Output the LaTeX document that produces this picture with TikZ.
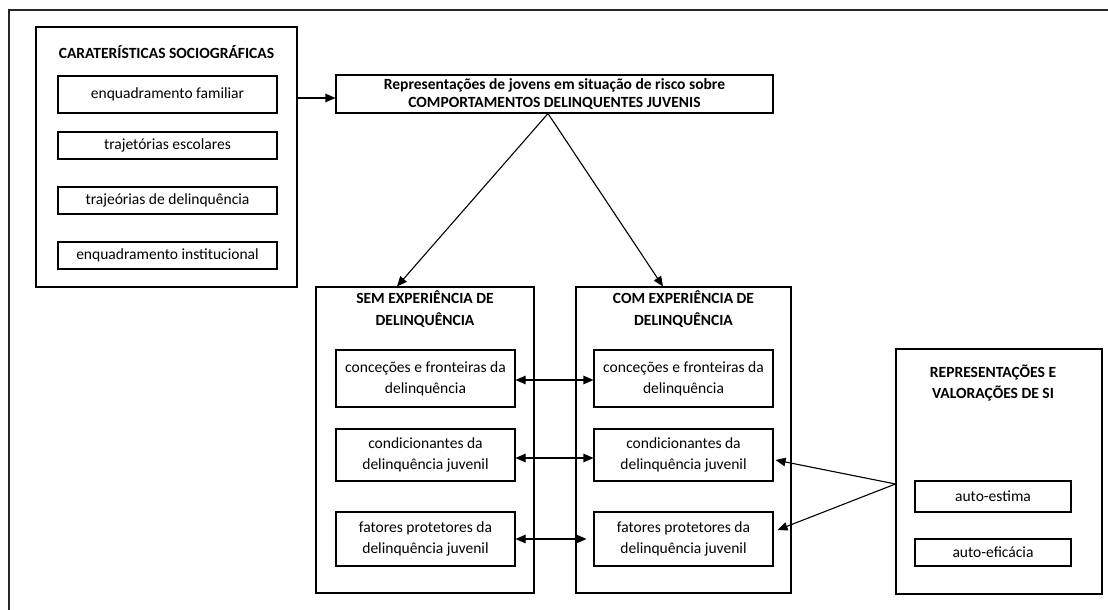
\documentclass[tikz,border=0pt]{standalone}
\usepackage{fontspec}
\setmainfont{Carlito}
\usetikzlibrary{arrows.meta}
\begin{document}
\begin{tikzpicture}[x=1bp,y=-1bp,
  box/.style={draw,line width=1.1bp,inner sep=0pt,align=center,font=\fontsize{15.6}{21}\selectfont},
  ttl/.style={inner sep=0pt,align=center,font=\bfseries\fontsize{15.6}{21.5}\selectfont},
  arr/.style={line width=1.1bp,-{Triangle[length=10bp,width=8.5bp]}},
  darr/.style={line width=1.1bp,{Triangle[length=10bp,width=8.5bp]}-{Triangle[length=10bp,width=8.5bp]}}]
\useasboundingbox (0,0) rectangle (1108,610);
\draw[line width=2bp,color=black!85] (9,610) -- (9,10) -- (1108,10);
% left block
\node[box,minimum width=261bp,minimum height=260bp] (car) at (166.5,157) {};
\node[ttl] (cart) at (166.5,52) {CARATERÍSTICAS SOCIOGRÁFICAS};
\node[box,minimum width=219bp,minimum height=37bp] (k1) at (167.5,94.5) {enquadramento familiar};
\node[box,minimum width=219bp,minimum height=27bp] (k2) at (167.5,145.5) {trajetórias escolares};
\node[box,minimum width=219bp,minimum height=27bp] (k3) at (167.5,200.5) {trajeórias de delinquência};
\node[box,minimum width=219bp,minimum height=27bp] (k4) at (167.5,255.5) {enquadramento institucional};
% top box
\node[box,font=\bfseries\fontsize{15.6}{18.5}\selectfont,minimum width=437bp,minimum height=38bp] (rep) at (554.5,94) {Representações de jovens em situação de risco sobre\\COMPORTAMENTOS DELINQUENTES JUVENIS};
\coordinate (a1) at ([yshift=-4bp]rep.west);
\draw[arr] (car.east |- a1) -- (a1);
% SEM
\node[box,minimum width=218bp,minimum height=306bp] (sem) at (425,440) {};
\node[ttl] (semt) at (425,309) {SEM EXPERIÊNCIA DE\\DELINQUÊNCIA};
\node[box,minimum width=179bp,minimum height=57bp] (s1) at (425.5,378.5) {conceções e fronteiras da\\delinquência};
\node[box,minimum width=179bp,minimum height=52bp] (s2) at (425.5,455) {condicionantes da\\delinquência juvenil};
\node[box,minimum width=179bp,minimum height=54bp] (s3) at (425.5,539) {fatores protetores da\\delinquência juvenil};
% COM
\node[box,minimum width=215bp,minimum height=306bp] (com) at (683.5,440) {};
\node[ttl] (comt) at (683.5,309) {COM EXPERIÊNCIA DE\\DELINQUÊNCIA};
\node[box,minimum width=179bp,minimum height=57bp] (c1) at (683.5,378.5) {conceções e fronteiras da\\delinquência};
\node[box,minimum width=179bp,minimum height=52bp] (c2) at (683.5,455) {condicionantes da\\delinquência juvenil};
\node[box,minimum width=179bp,minimum height=54bp] (c3) at (683.5,539) {fatores protetores da\\delinquência juvenil};
% REP
\node[box,minimum width=206bp,minimum height=245bp] (rs) at (999,471.5) {};
\node[ttl] (rst) at (993,383) {REPRESENTAÇÕES E\\VALORAÇÕES DE SI};
\node[box,minimum width=156bp,minimum height=31bp] (r1) at (993,496.5) {auto-estima};
\node[box,minimum width=156bp,minimum height=27bp] (r2) at (993,552.5) {auto-eficácia};
% connectors
\draw[arr] ([xshift=-6.5bp]rep.south) -- ([xshift=-28bp]sem.north);
\draw[arr] ([xshift=-6.5bp]rep.south) -- ([xshift=-20.5bp]com.north);
\draw[darr] ([yshift=-1.5bp]s1.east) -- ([yshift=-1.5bp]c1.west);
\draw[darr] ([yshift=-3bp]s2.east) -- ([yshift=-3bp]c2.west);
\draw[darr,shorten >=7bp] (s3.east) -- (c3.west);
\coordinate (rp) at ([yshift=-12.5bp]rs.west);
\draw[arr] (rp) -- ([yshift=-5bp,xshift=2bp]c2.east);
\draw[arr] (rp) -- ([yshift=9bp,xshift=4bp]c3.east);
\end{tikzpicture}
\end{document}
